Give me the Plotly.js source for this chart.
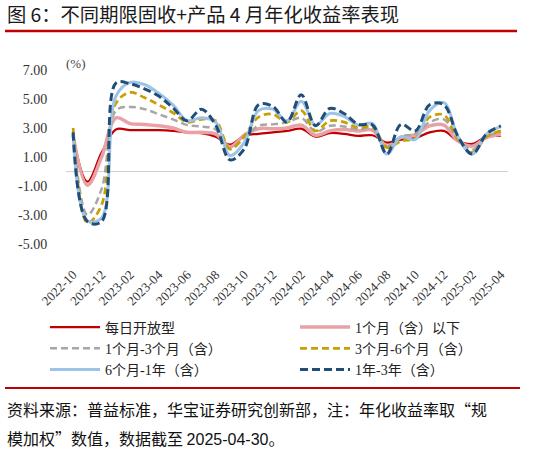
<!DOCTYPE html>
<html><head><meta charset="utf-8">
<script src="https://cdn.plot.ly/plotly-3.0.1.min.js"></script>
<style>html,body{margin:0;padding:0;background:#fff}#chart{width:534px;height:453px}</style>
</head><body><div id="chart"></div>
<script>
const months = ['2022-10','2022-11','2022-12','2023-01','2023-02','2023-03','2023-04','2023-05','2023-06','2023-07','2023-08','2023-09','2023-10','2023-11','2023-12','2024-01','2024-02','2024-03','2024-04','2024-05','2024-06','2024-07','2024-08','2024-09','2024-10','2024-11','2024-12','2025-01','2025-02','2025-03','2025-04'];
const xTickLabels = ['2022-10','2022-12','2023-02','2023-04','2023-06','2023-08','2023-10','2023-12','2024-02','2024-04','2024-06','2024-08','2024-10','2024-12','2025-02','2025-04'];
const yTickVals = [-5,-3,-1,1,3,5,7];
const yTickText = ['-5.00','-3.00','-1.00','1.00','3.00','5.00','7.00'];
const seriesNames = ['每日开放型','1个月（含）以下','1个月-3个月（含）','3个月-6个月（含）','6个月-1年（含）','1年-3年（含）'];
const daily    = [2.4,-0.7,1.3,2.9,2.85,2.85,2.85,2.8,2.7,2.65,2.4,1.85,2.45,2.6,2.7,2.8,2.95,2.4,2.65,2.6,2.45,2.5,2.0,2.2,2.3,2.7,2.8,2.1,1.9,2.4,2.45];
const upTo1M   = [2.5,-0.95,1.0,3.7,3.3,3.25,3.15,3.0,2.7,2.7,2.6,1.7,2.5,2.95,2.95,3.0,3.2,2.5,2.8,2.9,2.8,2.85,1.75,2.35,2.55,3.15,3.2,2.1,1.75,2.35,2.55];
const m1to3    = [2.7,-3.0,-1.2,4.2,4.45,4.3,3.95,3.6,3.2,3.1,2.9,1.55,2.3,3.15,3.25,3.4,3.7,2.75,3.15,3.1,2.9,3.0,1.75,2.4,2.6,3.4,3.6,2.2,1.5,2.4,2.75];
const m3to6    = [3.0,-3.55,-2.3,4.7,5.45,5.1,4.6,4.05,3.4,3.6,3.5,1.55,2.45,3.75,3.95,3.4,4.2,2.8,3.5,3.4,3.0,3.1,1.65,2.1,2.3,3.75,3.9,2.2,1.3,2.4,2.8];
const m6to1y   = [2.6,-3.4,-3.2,5.2,6.15,6.0,5.4,4.6,3.5,3.7,3.4,1.1,2.0,4.2,4.3,3.5,4.85,3.2,4.0,3.8,3.2,3.3,1.2,2.4,2.2,4.2,4.75,2.4,1.2,2.6,3.1];
const y1to3    = [2.7,-3.45,-3.45,6.1,6.05,5.7,5.2,4.4,3.5,4.3,3.2,0.8,1.55,4.6,4.5,3.4,5.3,3.15,4.35,4.0,3.25,3.2,1.2,3.25,2.8,4.6,4.6,2.4,1.2,2.6,3.15];

const seriesData = [daily, upTo1M, m1to3, m3to6, m6to1y, y1to3];
const styles = [
  {color:'#C00000', width:2.25, dash:'solid', legend:'legend'},
  {color:'#E8A2A6', width:3.5, dash:'solid', legend:'legend2'},
  {color:'#A6A6A6', width:2.5, dash:'7px,4px', legend:'legend'},
  {color:'#C9A000', width:2.75, dash:'7px,4px', legend:'legend2'},
  {color:'#9DC3E6', width:3, dash:'solid', legend:'legend'},
  {color:'#1F4E79', width:3, dash:'8px,4px', legend:'legend2'}
];
const traces = seriesData.map((d,i)=>({
  type:'scatter', mode:'lines', x:months, y:d, name:seriesNames[i],
  line:{color:styles[i].color, width:styles[i].width, dash:styles[i].dash, shape:'spline', smoothing:1},
  legend:styles[i].legend, hoverinfo:'skip'
}));

const serif = 'Liberation Serif, Noto Sans CJK SC, serif';
const cjk = 'Noto Sans CJK SC, sans-serif';
const PL=66, PR=508, PT=70, PB=244, W=534, H=453;
const px2x = x => (x-PL)/(PR-PL);
const px2y = y => (PB-y)/(PB-PT);

const legendCommon = {orientation:'v', itemwidth:50, font:{family:serif, size:14, color:'#222'}, bgcolor:'rgba(0,0,0,0)', borderwidth:0, yanchor:'top', xanchor:'left', tracegroupgap:0};

const layout = {
  width:W, height:H,
  margin:{l:PL, r:W-PR, t:PT, b:H-PB},
  paper_bgcolor:'#fff', plot_bgcolor:'#fff',
  title:{text:'图 6：不同期限固收+产品 4 月年化收益率表现', x:7/W, xanchor:'left', xref:'container', y:1-15/H, yref:'container', yanchor:'middle', font:{family:cjk, size:19.3, color:'#1a1a1a'}},
  xaxis:{type:'category', range:[-0.5, months.length-0.5], tickvals:xTickLabels, ticktext:xTickLabels, tickangle:-45,
         ticks:'outside', ticklen:17, tickcolor:'rgba(0,0,0,0)', showline:false, showgrid:false, zeroline:false,
         tickfont:{family:serif, size:13, color:'#333'}, fixedrange:true},
  yaxis:{range:[-5,7], tickvals:yTickVals, ticktext:yTickText, ticks:'outside', ticklen:15, tickcolor:'rgba(0,0,0,0)',
         showline:false, showgrid:false, zeroline:true, zerolinecolor:'#D0D0D0', zerolinewidth:1.5,
         tickfont:{family:serif, size:14, color:'#333'}, fixedrange:true},
  showlegend:true,
  legend:Object.assign({}, legendCommon, {x:px2x(45), y:px2y(311.5)}),
  legend2:Object.assign({}, legendCommon, {x:px2x(295), y:px2y(311.5)}),
  shapes:[
    {type:'line', xref:'paper', yref:'paper', x0:px2x(5), x1:px2x(517), y0:px2y(31), y1:px2y(31), line:{color:'#C00000', width:2.5}},
    {type:'line', xref:'paper', yref:'paper', x0:px2x(5), x1:px2x(520), y0:px2y(388), y1:px2y(388), line:{color:'#C00000', width:2}}
  ],
  annotations:[
    {text:'(%)', xref:'paper', yref:'paper', x:px2x(76), y:px2y(63), showarrow:false, xanchor:'center', yanchor:'middle', font:{family:serif, size:13, color:'#444'}},
    {text:'资料来源：普益标准，华宝证券研究创新部，注：年化收益率取“规', xref:'paper', yref:'paper', x:px2x(5), y:px2y(409), showarrow:false, xanchor:'left', yanchor:'middle', font:{family:cjk, size:16, color:'#111'}},
    {text:'模加权”数值，数据截至 <span style="font-family:Liberation Sans">2025-04-30</span>。', xref:'paper', yref:'paper', x:px2x(5), y:px2y(438), showarrow:false, xanchor:'left', yanchor:'middle', font:{family:cjk, size:16, color:'#111'}}
  ]
};
Plotly.newPlot('chart', traces, layout, {displayModeBar:false, staticPlot:true});
</script></body></html>
